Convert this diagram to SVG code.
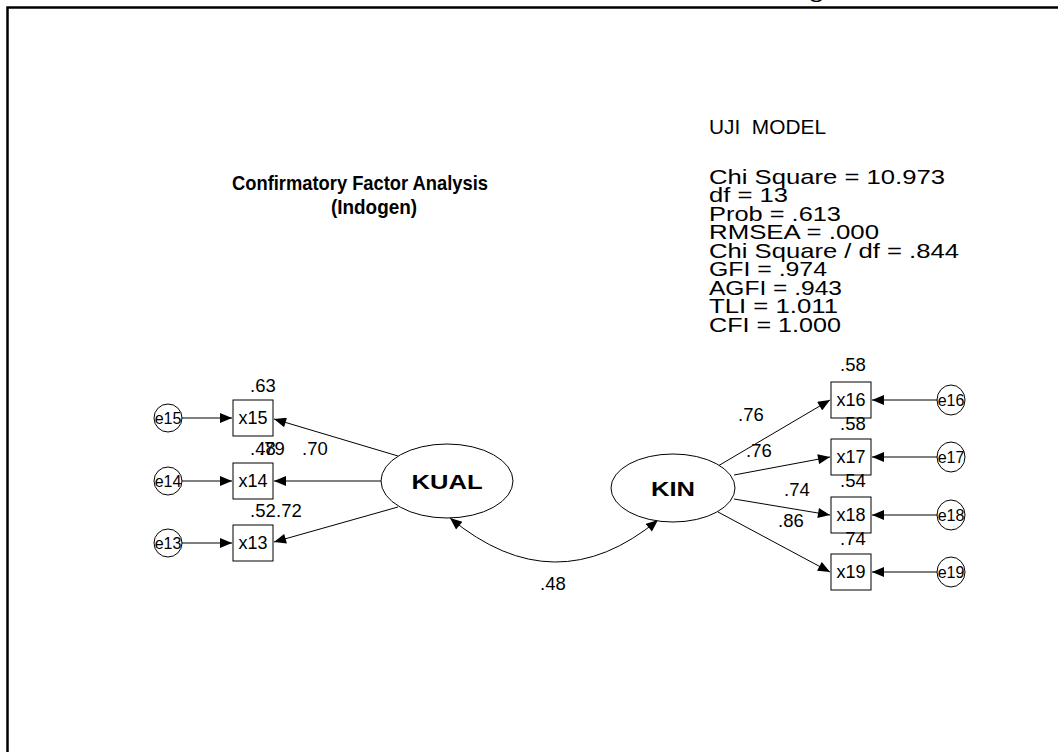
<svg xmlns="http://www.w3.org/2000/svg" width="1058" height="752" viewBox="0 0 1058 752">
<style>
.sans{font-family:"Liberation Sans",Arial,sans-serif;fill:#000}
.lbl{font-size:18.5px}
.nm{font-size:18px;text-anchor:middle}
.en{font-size:16px;text-anchor:middle}
.lat{font-size:20px;font-weight:bold;text-anchor:middle}
.stat{font-size:21px}
.title{font-size:21px;font-weight:bold;text-anchor:middle}
.shape{fill:#fff;stroke:#000;stroke-width:1}
.edge{fill:none;stroke:#000;stroke-width:1}
</style>
<defs>
<marker id="ah" viewBox="0 0 12 10" refX="12" refY="5" markerWidth="13" markerHeight="10" markerUnits="userSpaceOnUse" orient="auto-start-reverse">
<path d="M0,0 L12,5 L0,10 z" fill="#000"/>
</marker>
</defs>
<rect width="1058" height="752" fill="#fff"/>
<g id="frame">
<path d="M7.5,752 V7.5 H1058" fill="none" stroke="#000" stroke-width="2.5"/>
<text x="810" y="-3" style="font-family:'Liberation Serif','Times New Roman',serif;font-size:26px;font-weight:bold">g</text>
</g>
<g id="title" class="sans">
<text class="title" x="360" y="190" textLength="256" lengthAdjust="spacingAndGlyphs">Confirmatory Factor Analysis</text>
<text class="title" x="374" y="214" textLength="86" lengthAdjust="spacingAndGlyphs">(Indogen)</text>
</g>
<g id="stats" class="sans stat">
<text x="709" y="134" xml:space="preserve" textLength="117" lengthAdjust="spacingAndGlyphs">UJI  MODEL</text>
<text x="709" y="184" textLength="236" lengthAdjust="spacingAndGlyphs">Chi Square = 10.973</text>
<text x="709" y="202" textLength="79" lengthAdjust="spacingAndGlyphs">df = 13</text>
<text x="709" y="221" textLength="132" lengthAdjust="spacingAndGlyphs">Prob = .613</text>
<text x="709" y="239" textLength="170" lengthAdjust="spacingAndGlyphs">RMSEA = .000</text>
<text x="709" y="258" textLength="250" lengthAdjust="spacingAndGlyphs">Chi Square / df = .844</text>
<text x="709" y="276" textLength="118" lengthAdjust="spacingAndGlyphs">GFI = .974</text>
<text x="709" y="295" textLength="133" lengthAdjust="spacingAndGlyphs">AGFI = .943</text>
<text x="709" y="313" textLength="129" lengthAdjust="spacingAndGlyphs">TLI = 1.011</text>
<text x="709" y="332" textLength="132" lengthAdjust="spacingAndGlyphs">CFI = 1.000</text>
</g>
<g id="connectors">
<path class="edge" marker-end="url(#ah)" d="M182,418 H232"/>
<path class="edge" marker-end="url(#ah)" d="M182,481 H232"/>
<path class="edge" marker-end="url(#ah)" d="M182,543 H232"/>
<path class="edge" marker-end="url(#ah)" d="M398,456 L274,419"/>
<path class="edge" marker-end="url(#ah)" d="M381,481 L274,481"/>
<path class="edge" marker-end="url(#ah)" d="M398,507 L274,542"/>
<path class="edge" marker-end="url(#ah)" d="M718,466 L830,400"/>
<path class="edge" marker-end="url(#ah)" d="M734,475 L830,457"/>
<path class="edge" marker-end="url(#ah)" d="M734,499 L830,515"/>
<path class="edge" marker-end="url(#ah)" d="M718,512 L830,572"/>
<path class="edge" marker-end="url(#ah)" d="M937,400 H872"/>
<path class="edge" marker-end="url(#ah)" d="M937,457 H872"/>
<path class="edge" marker-end="url(#ah)" d="M937,515 H872"/>
<path class="edge" marker-end="url(#ah)" d="M937,572 H872"/>
<path class="edge" marker-start="url(#ah)" marker-end="url(#ah)" d="M450,518 Q555,605 658,520"/>
</g>
<g id="KUAL"><ellipse class="shape" cx="447" cy="481" rx="66" ry="37"/><text class="sans lat" x="447" y="489" textLength="71" lengthAdjust="spacingAndGlyphs">KUAL</text></g>
<g id="KIN"><ellipse class="shape" cx="673" cy="488" rx="62" ry="34"/><text class="sans lat" x="673" y="496" textLength="44" lengthAdjust="spacingAndGlyphs">KIN</text></g>
<g id="x15"><rect class="shape" x="233" y="400" width="40" height="36"/><text class="sans nm" x="253" y="424">x15</text></g>
<g id="x14"><rect class="shape" x="233" y="463" width="40" height="36"/><text class="sans nm" x="253" y="487">x14</text></g>
<g id="x13"><rect class="shape" x="233" y="525" width="40" height="36"/><text class="sans nm" x="253" y="549">x13</text></g>
<g id="x16"><rect class="shape" x="831" y="382" width="40" height="36"/><text class="sans nm" x="851" y="406">x16</text></g>
<g id="x17"><rect class="shape" x="831" y="439" width="40" height="36"/><text class="sans nm" x="851" y="463">x17</text></g>
<g id="x18"><rect class="shape" x="831" y="497" width="40" height="36"/><text class="sans nm" x="851" y="521">x18</text></g>
<g id="x19"><rect class="shape" x="831" y="554" width="40" height="36"/><text class="sans nm" x="851" y="578">x19</text></g>
<g id="e15"><ellipse class="shape" cx="168" cy="418" rx="14" ry="14"/><text class="sans en" x="168" y="424">e15</text></g>
<g id="e14"><ellipse class="shape" cx="168" cy="481" rx="14" ry="14"/><text class="sans en" x="168" y="487">e14</text></g>
<g id="e13"><ellipse class="shape" cx="168" cy="543" rx="14" ry="14"/><text class="sans en" x="168" y="549">e13</text></g>
<g id="e16"><ellipse class="shape" cx="951" cy="400" rx="14" ry="15"/><text class="sans en" x="951" y="406">e16</text></g>
<g id="e17"><ellipse class="shape" cx="951" cy="457" rx="14" ry="15"/><text class="sans en" x="951" y="463">e17</text></g>
<g id="e18"><ellipse class="shape" cx="951" cy="515" rx="14" ry="15"/><text class="sans en" x="951" y="521">e18</text></g>
<g id="e19"><ellipse class="shape" cx="951" cy="572" rx="14" ry="15"/><text class="sans en" x="951" y="578">e19</text></g>
<g id="labels" class="sans lbl">
<text x="250" y="392">.63</text>
<text x="250" y="455">.48</text>
<text x="259" y="455">.79</text>
<text x="302" y="455">.70</text>
<text x="250" y="517">.52</text>
<text x="276" y="517">.72</text>
<text x="840" y="371">.58</text>
<text x="840" y="430">.58</text>
<text x="840" y="487">.54</text>
<text x="840" y="545">.74</text>
<text x="738" y="421">.76</text>
<text x="746" y="457">.76</text>
<text x="784" y="496">.74</text>
<text x="778" y="527">.86</text>
<text x="540" y="590">.48</text>
</g>
</svg>
